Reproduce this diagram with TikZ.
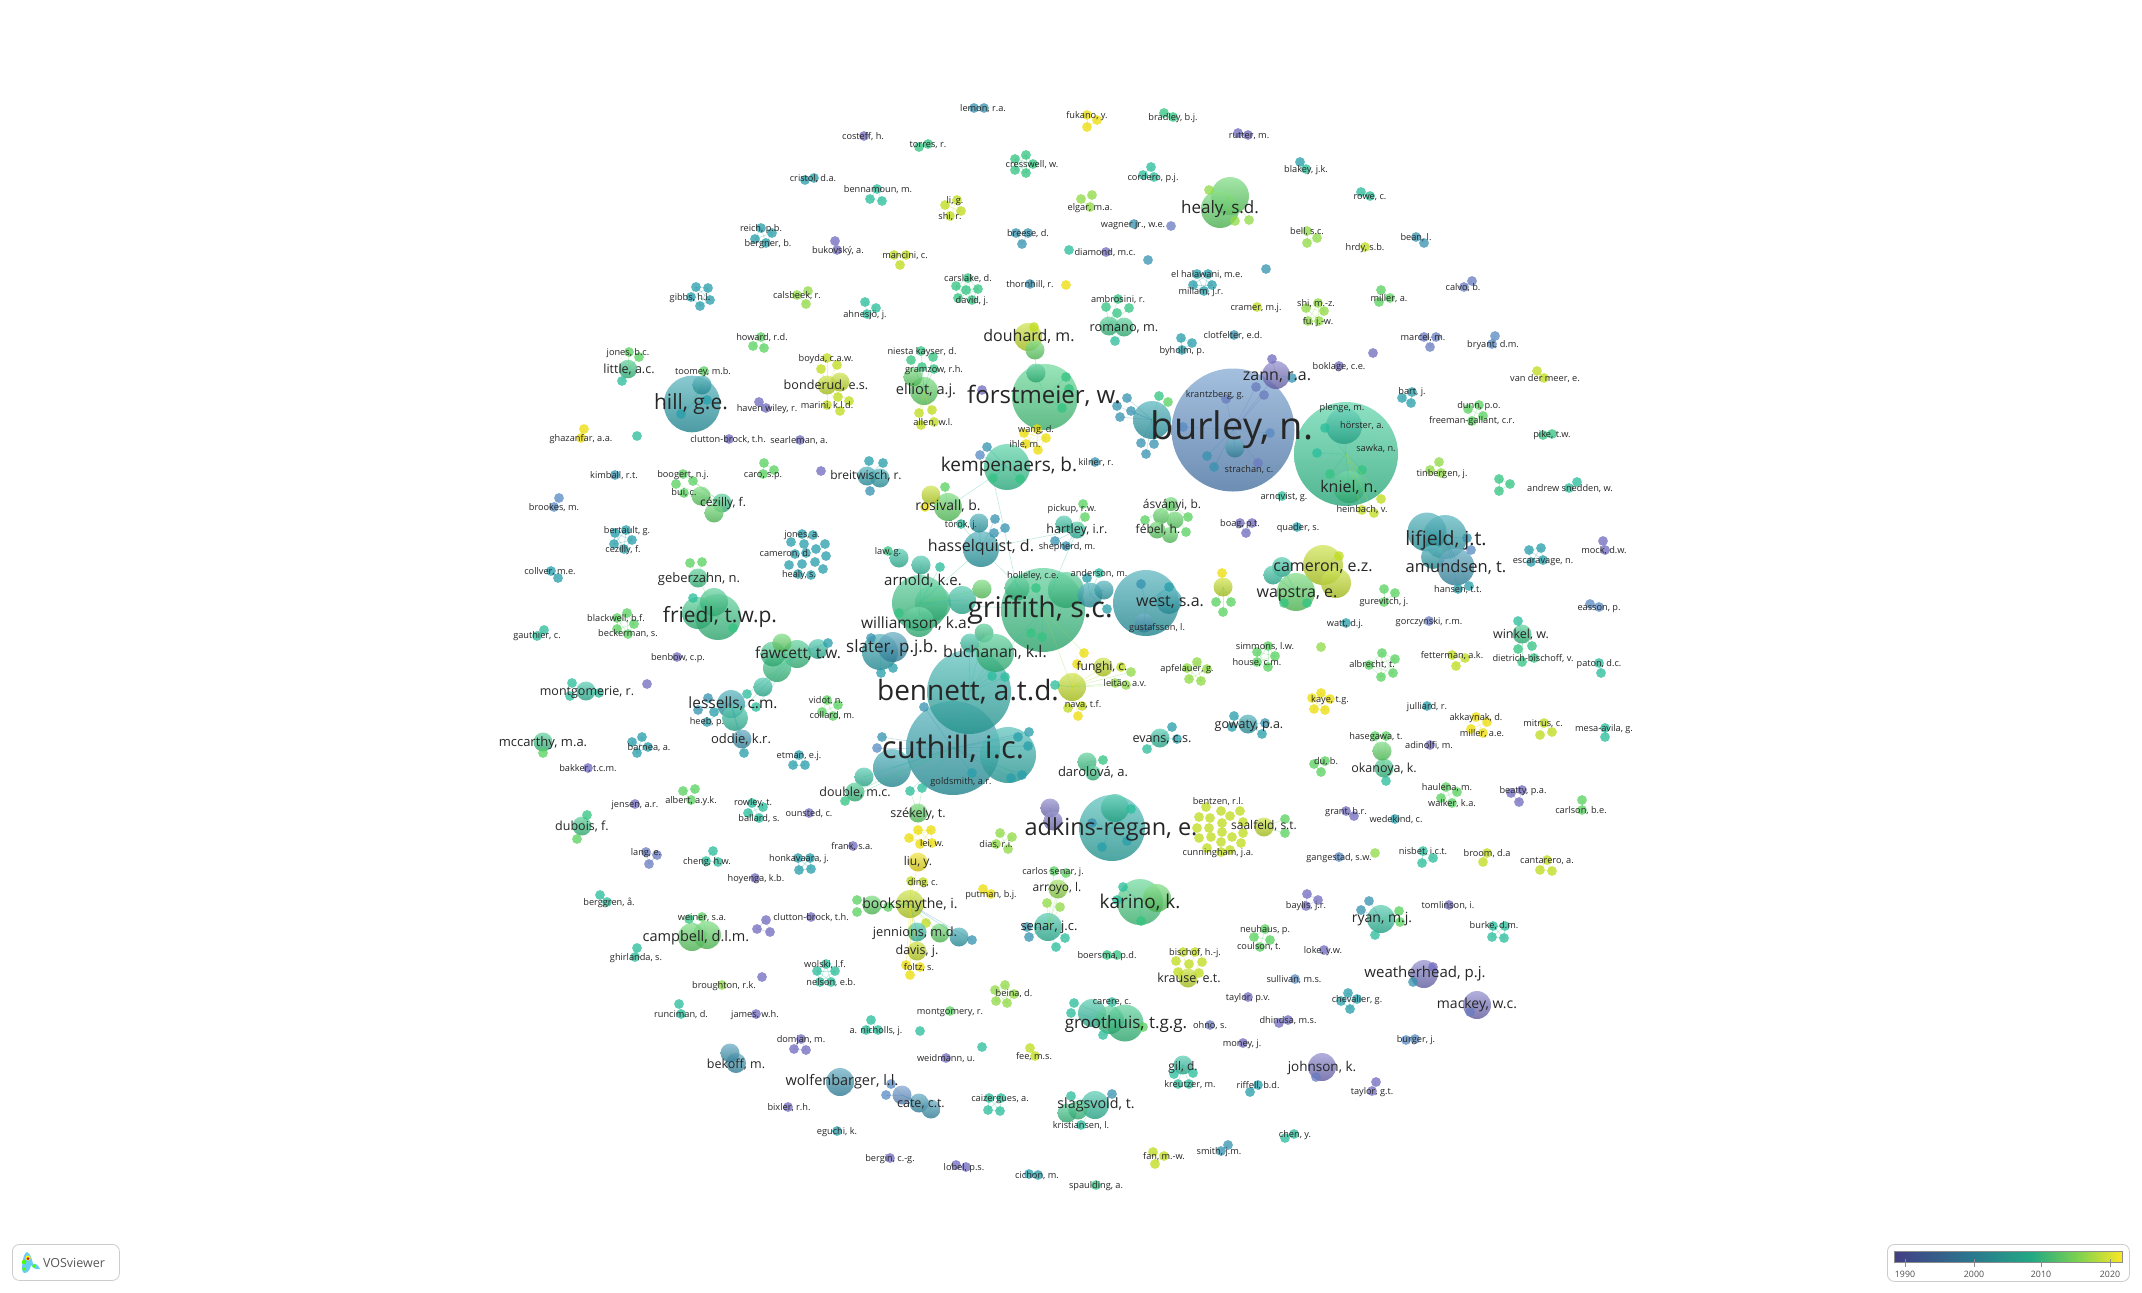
\documentclass[tikz,border=0pt]{standalone}
\usepackage{fontspec}
\setmainfont{Open Sans}
\definecolor{vp}{HTML}{726DBF}
\definecolor{vi}{HTML}{6A7CC0}
\definecolor{vb}{HTML}{598BC4}
\definecolor{vs}{HTML}{3792B0}
\definecolor{vt}{HTML}{279FAB}
\definecolor{vu}{HTML}{2AAFA9}
\definecolor{va}{HTML}{2ABE9C}
\definecolor{vn}{HTML}{30C992}
\definecolor{vg}{HTML}{33C481}
\definecolor{vo}{HTML}{45D080}
\definecolor{vm}{HTML}{59D360}
\definecolor{vl}{HTML}{90DB45}
\definecolor{vk}{HTML}{C1DC1D}
\definecolor{vy}{HTML}{ECDD09}
\definecolor{ba}{HTML}{433E85}
\definecolor{bb}{HTML}{2A788E}
\definecolor{bc}{HTML}{22A884}
\definecolor{bd}{HTML}{7AD151}
\definecolor{be}{HTML}{FDE725}
\definecolor{framec}{HTML}{CCCCCC}
\pgfdeclarehorizontalshading{virid}{100bp}{color(0bp)=(ba);color(25bp)=(ba);color(42bp)=(bb);color(55bp)=(bc);color(65bp)=(bd);color(75bp)=(be);color(100bp)=(be)}
\newcounter{labn}
\tikzset{
  bub/.style={circle,inner sep=0pt,outer sep=0pt,fill opacity=.8,draw=none},
  bigb/.style={top color=#1!68!white,bottom color=#1!82!black},
  smallb/.style={fill=#1,fill opacity=.76},
  lnk/.style={line width=.6pt,draw opacity=.3},
  lab/.style={inner sep=0pt,text=black!85,anchor=base},
}
% mixed cluster, first entry is the hub: x/y/r/colour
\newcommand\cl[2]{%
  \foreach \vx/\vy/\vr/\vc [count=\ei] in {#2}{%
    \ifdim\vr pt>6pt \def\vst{bigb}\else\def\vst{smallb}\fi
    \ifdim\vr pt<5pt \def\vr{4.9}\fi
    \node[bub,\vst=v\vc,minimum size=2*\vr] (#1-\ei) at (\vx,\vy) {};
    \ifnum\ei>1 \draw[lnk,draw=v\vc] (#1-1.center) -- (#1-\ei.center);\fi
  }}
% uniform small cluster, fully linked
\newcommand\sm[3]{%
  \foreach \vx/\vy [count=\ei] in {#3}{%
    \node[bub,smallb=v#2,minimum size=9.8] (#1-\ei) at (\vx,\vy) {};
    \xdef\en{\ei}}%
  \foreach \ea in {1,...,\en}{\foreach \eb in {1,...,\en}{%
    \ifnum\ea<\eb \draw[lnk,draw=v#2] (#1-\ea.center) -- (#1-\eb.center);\fi}}}
% uniform small cluster without visible links
\newcommand\smn[3]{%
  \foreach \vx/\vy [count=\ei] in {#3}{%
    \node[bub,smallb=v#2,minimum size=9.8] (#1-\ei) at (\vx,\vy) {};}}
\newcommand\lk[3]{\draw[lnk,draw=v#3] (#1.center) -- (#2.center);}
% labels are queued and drawn above every bubble
\newcommand\alllabels{}
\newcommand\lbdo[4]{\stepcounter{labn}\node[lab,font=\fontsize{#1}{#1}\selectfont] (lab\thelabn) at (#2,{#3+.33*#1}) {#4};}
\makeatletter
\newcommand\lb[4][9.2]{\g@addto@macro\alllabels{\lbdo{#1}{#2}{#3}{#4}}}
\makeatother
\begin{document}
\begin{tikzpicture}[x=1pt,y=-1pt]
\useasboundingbox (0,0) rectangle (2142,1293);
\fill[white] (0,0) rectangle (2142,1293);
% ---- central cores
\cl{burley}{1233/430/61.5/b,1226/399/4.5/i,1183/427/4.5/b,1270/433/4.5/b,1235/448/9.5/s,1207/456/4.5/s,1214/467/4.5/s,1258/463/4.5/i,1256/387/4.5/i,1264/395/4.5/i}
\cl{zann}{1276/375/14/p,1272/359/4.5/p,1292/378/4/s}
\lk{burley-1}{zann-1}{i}
\cl{kniel}{1346/454/52/n,1344/426/18/a,1349/487/16/g,1325/428/4.5/a,1317/453/4.5/a,1330/474/4.5/g,1362/470/4.5/g,1381/499/4.5/k,1362/510/4.5/k,1374/513/4.5/k}
\cl{forst}{1045/397/33/o,1036/373/9.5/g,1066/377/4.5/g,1069/389/4.5/g,1062/408/4/g}
\cl{douhard}{1028/337/14/k,1035/350/9.5/m,1034/327/4.5/k}
\lk{forst-2}{douhard-2}{m}
\smn{fpurple}{p}{982/390}
\sm{wang}{y}{1024/433,1037/429,1046/438,1026/444,1038/450}
\cl{kemp}{1007/467/23/n,987/447/4.5/s,980/455/4.5/b,993/478/4.5/g,1020/479/4.5/g}
\cl{rightb}{1152/420/19/t,1127/398/4.5/s,1131/411/4.5/s,1117/406/4.5/s,1120/417/4.5/s,1159/396/4.5/g,1168/402/4.5/m,1141/443/4.5/s,1154/444/4.5/s,1146/454/4.5/s}
\cl{cuthill}{953/748/47/t,1008/755/28/u,892/768/19/t,864/777/9.5/a,855/792/9.5/g,845/801/4.5/g,882/737/4.5/s,877/748/4.5/b,910/791/4.5/a,922/788/4.5/a,1018/737/4.5/t,1029/732/4.5/t,1028/746/4.5/t,1022/775/4.5/t,1011/778/4.5/t,972/773/4.5/t,924/707/4.5/s}
\cl{szek}{918/813/9.5/m}
\lk{cuthill-9}{szek-1}{m}\lk{cuthill-10}{szek-1}{m}
\cl{bennett}{969/692/42/u,984/633/9.5/g,970/643/9.5/a,995/653/19/g,992/676/4.5/a,1005/677/4.5/a}
\cl{griffith}{1043/610/42/g,1066/590/18/g,1017/588/12.5/g,1036/588/4.5/g,1031/633/4.5/g,1042/637/4.5/g}
\cl{arnold}{920/603/28/g,933/603/18/g,919/622/15/g,962/600/14/a,921/565/9.5/a,940/567/4.5/a,982/589/9.5/m,899/613/4.5/g}
\cl{slater}{880/652/18/t,893/647/15/s,871/638/4.5/s,881/673/4.5/t,893/668/4.5/t}
\cl{hassel}{981/549/18/t,979/523/9.5/t,961/524/4.5/a,995/519/4.5/s,994/533/4.5/s,1005/528/4.5/s}
\cl{law}{899/558/9.5/a,888/551/4.5/g}
\cl{rosiv}{948/507/14/m,931/495/9.5/k,945/487/4.5/m,925/507/4.5/y}
\cl{hartley}{1077/530/8.5/a,1064/524/8.5/a,1083/504/4.5/m,1085/517/4.5/m,1055/541/4.5/s,1066/546/4.5/s}
\cl{anders}{1090/595/12.5/t,1099/573/4.5/a,1087/578/4.5/t,1104/590/9.5/t,1107/609/4.5/t}
\cl{west}{1146/603/33/t,1169/601/13/t,1141/584/4.5/s,1169/587/4.5/t,1144/623/9.5/s}
\cl{funghi}{1072/687/14/k,1084/653/4.5/y,1077/664/4.5/y,1103/667/9.5/k,1121/667/4.5/k,1131/672/4.5/l,1115/683/4.5/l,1126/685/4.5/l,1055/685/4.5/a,1068/708/4.5/k,1082/706/4.5/k,1078/716/4.5/y}
\lk{griffith-1}{hassel-1}{a}\lk{griffith-1}{hartley-1}{a}\lk{griffith-1}{arnold-1}{a}\lk{hassel-1}{arnold-1}{a}\lk{hartley-1}{hassel-1}{a}
\lk{kemp-1}{rosiv-1}{a}\lk{kemp-4}{griffith-3}{a}\lk{griffith-1}{funghi-1}{l}\lk{griffith-1}{funghi-2}{l}\lk{griffith-1}{bennett-1}{a}\lk{bennett-1}{cuthill-1}{a}
\lb[38]{1232}{427}{burley, n.}
\lb[16]{1277}{375}{zann, r.a.}
\lb{1215}{394}{krantzberg, g.}
\lb{1249}{469}{strachan, c.}
\lb{1342}{407}{plenge, m.}
\lb{1362}{425}{hörster, a.}
\lb{1376}{448}{sawka, n.}
\lb[16]{1349}{487}{kniel, n.}
\lb{1362}{509}{heinbach, v.}
\lb[24]{1044}{396}{forstmeier, w.}
\lb[16]{1029}{336}{douhard, m.}
\lb{1036}{429}{wang, d.}
\lb{1025}{444}{ihle, m.}
\lb[19]{1009}{465}{kempenaers, b.}
\lb[31]{953}{748}{cuthill, i.c.}
\lb[28]{968}{691}{bennett, a.t.d.}
\lb{961}{781}{goldsmith, a.r.}
\lb[12.5]{855}{792}{double, m.c.}
\lb[12.5]{918}{813}{székely, t.}
\lb[28.5]{1040}{608}{griffith, s.c.}
\lb{1033}{575}{holleley, c.e.}
\lb[16]{995}{652}{buchanan, k.l.}
\lb[15]{923}{581}{arnold, k.e.}
\lb[15.5]{916}{623}{williamson, k.a.}
\lb[17]{892}{647}{slater, p.j.b.}
\lb[16]{981}{546}{hasselquist, d.}
\lb{961}{524}{török, j.}
\lb{888}{551}{law, g.}
\lb[14]{948}{506}{rosivall, b.}
\lb{1072}{508}{pickup, r.w.}
\lb[12.5]{1077}{529}{hartley, i.r.}
\lb{1067}{546}{shepherd, m.}
\lb{1099}{573}{anderson, m.}
\lb[16]{1170}{601}{west, s.a.}
\lb{1157}{627}{gustafsson, l.}
\lb[12]{1102}{667}{funghi, c.}
\lb{1125}{683}{leitão, a.v.}
\lb{1083}{704}{nava, t.f.}
% ---- upper left
\smn{lemon}{s}{974/108,984/108}\lb{983}{108}{lemon, r.a.}
\smn{costeff}{p}{864/136}\lb{863}{136}{costeff, h.}
\sm{torres}{g}{919/147,928/144}\lb{928}{144}{torres, r.}
\sm{cristol}{t}{805/180,814/178}\lb{813}{178}{cristol, d.a.}
\sm{bennam}{a}{877/189,870/199,882/201}\lb{878}{189}{bennamoun, m.}
\sm{lig}{k}{957/200,945/205,961/211,950/216}\lb{955}{200}{li, g.}\lb{950}{216}{shi, r.}
\sm{reich}{t}{761/228,772/233,755/239,766/243}\lb{761}{228}{reich, p.b.}\lb{768}{243}{bergner, b.}
\sm{bukov}{p}{835/241,837/250}\lb{838}{250}{bukovský, a.}
\sm{mancini}{k}{894/255,906/255,900/265}\lb{905}{255}{mancini, c.}
\sm{carsl}{g}{968/278,956/286,966/290,978/289,958/298,972/300}\lb{968}{278}{carslake, d.}\lb{972}{300}{david, j.}
\sm{gibbs}{t}{696/287,708/288,691/297,710/300,700/306}\lb{690}{297}{gibbs, h.l.}
\sm{calsb}{l}{808/291,797/295,806/304}\lb{797}{295}{calsbeek, r.}
\sm{ahnes}{a}{865/302,876/308,867/314}\lb{865}{314}{ahnesjö, j.}
\sm{howard}{m}{761/337,753/346,764/348}\lb{762}{337}{howard, r.d.}
\cl{little}{628/369/9.3/g,629/352/4.5/m,639/357/4.5/m,622/381/4.5/a}\lb{628}{352}{jones, b.c.}\lb[12.5]{629}{369}{little, a.c.}
\cl{hill}{692/404/28.3/t,702/385/9.5/t,707/400/4.5/t,681/414/4/t,704/371/4.5/m}\lb{703}{371}{toomey, m.b.}\lb[21]{691}{403}{hill, g.e.}
\cl{bonder}{827/385/9.5/k,840/382/9.5/k,827/358/4.5/k,821/369/4.5/k,837/365/4.5/k,838/397/4.5/k,849/401/4.5/k,827/405/4.5/k,840/411/4.5/k}\lb{826}{358}{boyda, c.a.w.}\lb[12.6]{826}{385}{bonderud, e.s.}\lb{827}{405}{marini, k.l.d.}
\cl{elliot}{924/391/14/m,913/377/9.5/m,921/351/4.5/g,911/360/4.5/g,933/357/4.5/g,922/367/4.5/g,934/369/4.5/g,919/413/4.5/k,932/410/4.5/k,921/425/4.5/k,934/422/4.5/k}\lb{922}{351}{niesta kayser, d.}\lb{934}{369}{gramzow, r.h.}\lb[14.6]{926}{390}{elliot, a.j.}\lb{933}{422}{allen, w.l.}
\sm{haven}{p}{759/402,766/408}\lb{767}{408}{haven wiley, r.}
\sm{ghaz}{y}{584/429,581/438}\lb{581}{438}{ghazanfar, a.a.}
\smn{solo1}{a}{637/436}
\smn{clut}{p}{729/439}\lb{728}{439}{clutton-brock, t.h.}
\smn{searl}{p}{800/440}\lb{799}{440}{searleman, a.}
% ---- upper middle / right
\sm{fukano}{y}{1087/115,1097/120,1087/127}\lb{1087}{115}{fukano, y.}
\sm{bradley}{g}{1164/113,1173/117}\lb{1173}{117}{bradley, b.j.}
\sm{rutter}{p}{1238/133,1248/135}\lb{1249}{135}{rutter, m.}
\sm{cressw}{g}{1026/155,1015/159,1033/164,1015/170,1026/173}\lb{1032}{164}{cresswell, w.}
\sm{cordero}{a}{1151/167,1143/175,1154/177}\lb{1153}{177}{cordero, p.j.}
\cl{blakey}{1300/162/4.5/t,1306/169/4.5/a}\lb{1306}{169}{blakey, j.k.}
\sm{rowe}{a}{1361/192,1370/196}\lb{1370}{196}{rowe, c.}
\cl{healy}{1230/196/19/m,1220/209/19/m,1209/190/4.5/l,1235/221/4.5/l,1249/220/4.5/l}\lb[17]{1220}{208}{healy, s.d.}
\sm{elgar}{l}{1081/199,1092/195,1090/207}\lb{1090}{207}{elgar, m.a.}
\smn{wagner}{s}{1134/224}\lb{1133}{224}{wagner jr., w.e.}
\smn{solo2}{i}{1171/226}
\sm{bells}{l}{1307/231,1317/238,1307/243}\lb{1307}{231}{bell, s.c.}
\sm{beanl}{s}{1416/237,1424/243}\lb{1416}{237}{bean, l.}
\smn{hrdy}{k}{1365/247}\lb{1365}{247}{hrdy, s.b.}
\sm{breese}{s}{1016/233,1028/233,1022/244}\lb{1028}{233}{breese, d.}
\smn{solo3}{a}{1069/250}
\smn{diam}{p}{1106/252}\lb{1105}{252}{diamond, m.c.}
\smn{solo4}{s}{1148/260}
\smn{solo5}{s}{1266/269}
\sm{elhal}{t}{1197/274,1208/274,1193/285,1212/285,1204/291}\lb{1207}{274}{el halawani, m.e.}\lb{1201}{291}{millam, j.r.}
\smn{thorn}{s}{1030/284}\lb{1030}{284}{thornhill, r.}
\smn{solo6}{y}{1066/285}
\cl{romano}{1109/326/9.5/g,1124/327/9.5/g,1118/299/4.5/g,1106/307/4.5/g,1129/308/4.5/g,1117/313/4.5/g,1115/341/4.5/a}\lb{1118}{299}{ambrosini, r.}\lb[12.7]{1124}{327}{romano, m.}
\smn{cramer}{k}{1257/307}\lb{1256}{307}{cramer, m.j.}
\sm{shimz}{l}{1318/303,1306/308,1324/311,1308/321,1319/321}\lb{1316}{303}{shi, m.-z.}\lb{1318}{321}{fu, j.-w.}
\sm{millera}{m}{1381/290,1390/298,1379/302}\lb{1389}{298}{miller, a.}
\sm{calvo}{i}{1472/281,1464/287}\lb{1463}{287}{calvo, b.}
\sm{marcel}{i}{1424/337,1436/337,1430/347}\lb{1423}{337}{marcel, m.}
\sm{bryant}{b}{1495/336,1492/344}\lb{1493}{344}{bryant, d.m.}
\smn{solo7}{p}{1373/353}
\smn{boklage}{p}{1339/366}\lb{1339}{366}{boklage, c.e.}
\smn{clotf}{s}{1234/335}\lb{1233}{335}{clotfelter, e.d.}
\sm{byholm}{t}{1181/338,1192/343,1182/350}\lb{1182}{350}{byholm, p.}
\lb{1096}{462}{kilner, r.}\smn{kilner}{s}{1095/462}
\smn{arnq}{a}{1282/496}\lb{1284}{496}{arnqvist, g.}
\sm{bart}{t}{1412/392,1402/398,1411/403}\lb{1412}{391}{bart, j.}
\sm{boag}{p}{1240/523,1252/523,1246/533}\lb{1240}{523}{boag, p.t.}
\smn{quader}{t}{1297/527}\lb{1298}{527}{quader, s.}
\cl{asv}{1171/504/7/m,1161/516/8/m,1175/520/8.5/m,1157/530/8.5/m,1170/535/8/m,1145/520/4.5/m,1188/517/4.5/m,1186/532/4.5/m}\lb[12]{1172}{505}{ásványi, b.}\lb[12]{1158}{530}{fébel, h.}
\cl{cameron}{1323/565/20/k,1336/583/15/k,1339/556/4.5/k}
\cl{wapstra}{1296/592/19/m,1282/567/10/a,1273/575/9.5/a,1284/603/4.5/g,1307/603/4.5/g}
\lb[16]{1323}{566}{cameron, e.z.}\lb[16]{1297}{592}{wapstra, e.}
\cl{zone}{1223/587/9.5/k,1222/573/4.5/y,1216/602/4.5/m,1231/602/4.5/m,1223/612/4.5/m}
\sm{gurev}{m}{1384/589,1395/593,1384/602}\lb{1384}{601}{gurevitch, j.}
\smn{watt}{t}{1346/623}\lb{1345}{623}{watt, d.j.}
\smn{gorcz}{i}{1429/621}\lb{1429}{621}{gorczynski, r.m.}
\sm{tinb}{l}{1439/462,1430/470,1441/473}\lb{1442}{473}{tinbergen, j.}
\sm{simm}{m}{1268/646,1275/656,1257/652,1257/662,1268/667}\lb{1265}{646}{simmons, l.w.}\lb{1257}{662}{house, c.m.}
\smn{solo8}{l}{1321/647}
\sm{albre}{m}{1382/653,1395/659,1369/665,1393/673,1381/677}\lb{1372}{664}{albrecht, t.}
\sm{apfel}{l}{1197/662,1187/668,1207/669,1189/679,1201/681}\lb{1187}{668}{apfelauer, g.}
\sm{fetter}{k}{1452/655,1465/658,1456/666}\lb{1452}{655}{fetterman, a.k.}
\cl{winkel}{1522/634/9.5/g,1518/621/4.5/a,1518/649/4.5/g,1532/646/4.5/g,1522/662/4.5/g,1534/658/4.5/g}\lb[12.5]{1521}{634}{winkel, w.}\lb{1533}{658}{dietrich-bischoff, v.}
\sm{paton}{a}{1599/663,1601/673}\lb{1599}{663}{paton, d.c.}
\sm{easson}{b}{1590/604,1599/607}\lb{1599}{607}{easson, p.}
\sm{mock}{p}{1603/541,1605/550}\lb{1604}{550}{mock, d.w.}
\sm{escar}{t}{1529/550,1541/548,1543/560,1531/562}\lb{1543}{560}{escaravage, n.}
\cl{lifjeld}{1445/537/22/t,1427/532/19.5/t,1433/557/12/t,1456/567/18.5/s,1467/538/4.5/s,1471/550/4.5/b,1469/586/4.5/t,1458/589/4.5/t}\lb[19.5]{1446}{539}{lifjeld, j.t.}\lb[16.5]{1456}{567}{amundsen, t.}\lb{1458}{589}{hansen, t.t.}
\sm{andrew}{a}{1577/482,1569/488}\lb{1570}{488}{andrew snedden, w.}
\sm{tri}{g}{1499/479,1510/484,1499/491}
\sm{pike}{g}{1543/435,1552/434}\lb{1552}{434}{pike, t.w.}
\sm{dunn}{m}{1468/409,1479/405,1483/416,1472/421}\lb{1479}{405}{dunn, p.o.}\lb{1472}{420}{freeman-gallant, c.r.}
\sm{vander}{k}{1537/371,1544/378}\lb{1545}{378}{van der meer, e.}
% ---- left
\smn{kimball}{s}{615/475}\lb{614}{475}{kimball, r.t.}
\sm{brookes}{b}{559/498,554/507}\lb{554}{507}{brookes, m.}
\cl{cezil}{722/503/9.5/g,701/496/9.5/m,714/513/9.5/m,683/474/4.5/m,676/484/4.5/m,693/481/4.5/m,684/493/4.5/m}\lb{683}{474}{boogert, n.j.}\lb{684}{492}{bui, c.}\lb[12]{723}{503}{cézilly, f.}
\sm{caro}{m}{764/463,774/470,763/474}\lb{763}{474}{caro, s.p.}
\smn{solo9}{p}{821/471}
\cl{breit}{867/476/9.5/t,880/478/9.5/t,869/461/4.5/t,883/463/4.5/t,870/491/4.5/s}\lb[12]{866}{476}{breitwisch, r.}
\sm{bertau}{t}{615/533,626/530,632/540,614/544,624/549}\lb{627}{530}{bertault, g.}\lb{623}{549}{cezilly, f.}
\smn{jonesa}{t}{802/534,813/535,791/542,804/544,816/549,825/544,826/556,795/554,806/553,815/562,802/564,789/565,823/569,811/575,798/574}\lb{802}{534}{jones, a.}\lb{785}{553}{cameron, d.}\lb{799}{574}{healy, s.}
\sm{collv}{t}{551/571,558/578}\lb{550}{571}{collver, m.e.}
\cl{geber}{698/578/9.5/g,690/563/4.5/m,702/562/4.5/m}\lb[13]{699}{578}{geberzahn, n.}
\cl{friedl}{718/617/23/g,698/613/16/g,714/602/14/g,693/598/4.5/a,733/628/4.5/g}\lb[21]{720}{616}{friedl, t.w.p.}
\lk{geber-1}{friedl-1}{m}
\sm{blackw}{m}{627/613,617/618,634/624,617/629,628/634}\lb{616}{618}{blackwell, b.f.}\lb{628}{633}{beckerman, s.}
\sm{gauth}{a}{544/630,537/636}\lb{537}{635}{gauthier, c.}
\smn{benbow}{p}{677/657}\lb{678}{657}{benbow, c.p.}
\cl{fawcett}{797/654/14/g,777/668/14/g,773/654/12.5/g,782/643/9.5/m,818/649/10/a,828/643/4.5/t,763/687/9.5/a,747/694/4.5/a,756/707/4.5/a}\lb[15.5]{798}{653}{fawcett, t.w.}
\cl{lessel}{731/704/14/t,735/718/13/a,708/698/4.5/s,698/710/4.5/s,714/712/4.5/t,707/722/4.5/t,742/739/9.5/s,744/753/4.5/t}\lb[15.5]{733}{703}{lessells, c.m.}\lb{707}{721}{heeb, p.}\lb[13]{741}{739}{oddie, k.r.}
\lk{fawcett-7}{lessel-2}{a}
\cl{mccarth}{543/742/9.5/g,543/753/4.5/m}\lb[13]{543}{742}{mccarthy, m.a.}
\cl{montgo}{586/691/9.5/a,572/683/4.5/a,570/696/4.5/a,599/693/4.5/a}\lb[12.5]{587}{691}{montgomerie, r.}
\smn{solo10}{p}{647/684}
\sm{barnea}{t}{642/737,632/742,648/747,637/753}\lb{649}{747}{barnea, a.}
\smn{bakker}{p}{588/768}\lb{588}{768}{bakker, t.c.m.}
\sm{vidot}{m}{827/700,838/705,822/712,833/716}\lb{826}{700}{vidot, n.}\lb{832}{715}{collard, m.}
\sm{etman}{t}{799/755,793/765,805/765}\lb{799}{755}{etman, e.j.}
% ---- lower centre
\cl{evans}{1160/738/9.5/a,1172/727/4.5/t,1147/749/4.5/a,1177/739/4.5/t}\lb[12.6]{1162}{738}{evans, c.s.}
\cl{gowaty}{1248/724/9.5/t,1234/716/4.5/t,1232/727/4.5/t,1265/723/4.5/s,1262/734/4.5/t}\lb[12.5]{1249}{724}{gowaty, p.a.}
\cl{darol}{1087/762/9.5/g,1103/760/4.5/g,1093/773/7.5/g}\lb[13]{1093}{772}{darolová, a.}
\cl{adkins}{1112/828/33/u,1115/808/14/a,1131/809/4.5/a,1092/823/4.5/s,1102/847/4.5/t,1127/841/4.5/t}
\cl{adkp}{1050/808/9.5/p,1053/821/9.5/p}
\lb[23.5]{1111}{828}{adkins-regan, e.}
\smn{bentzen}{k}{1206/807,1221/811,1240/811,1199/817,1210/818,1230/816,1243/822,1197/828,1209/828,1222/823,1222/832,1243/833,1199/838,1211/837,1232/837,1221/842,1241/843,1207/848,1230/850,1221/852}
\cl{saalf}{1264/827/9.5/k,1285/819/4.5/m,1285/833/4.5/m}
\lb{1218}{801}{bentzen, r.l.}\lb[12]{1264}{826}{saalfeld, s.t.}\lb{1218}{852}{cunningham, j.a.}
\sm{dias}{l}{1000/833,1012/837,996/844,1008/849}\lb{996}{844}{dias, r.i.}
\sm{lei}{y}{918/830,931/830,909/838,920/844,932/843}\lb{932}{843}{lei, w.}
\cl{book}{910/904/14/k,918/862/9.5/y,911/881/4.5/k,923/882/4.5/k,872/905/9.5/m,857/900/4.5/m,857/912/4.5/m,888/907/4.5/m,926/923/4.5/k,917/932/9.5/a,940/933/9.5/m,959/937/9.5/t,972/940/4.5/s,917/951/9.5/k,906/965/4.5/y,920/967/4.5/y,910/975/4.5/y}
\lb[12]{918}{862}{liu, y.}\lb{923}{882}{ding, c.}\lb[14]{910}{904}{booksmythe, i.}\lb[12.8]{915}{932}{jennions, m.d.}\lb[12.5]{917}{950}{davis, j.}\lb{919}{967}{foltz, s.}
\sm{putman}{y}{983/889,991/894}\lb{991}{894}{putman, b.j.}
\cl{senar}{1048/927/14/a,1054/871/4.5/m,1066/873/4.5/m,1058/889/9.5/l,1047/903/4.5/l,1060/907/4.5/l,1027/927/4.5/s,1029/937/4.5/s,1065/938/4.5/a,1056/947/4.5/a}\lb{1053}{871}{carlos senar, j.}\lb[12]{1057}{888}{arroyo, l.}\lb[13]{1049}{926}{senar, j.c.}
\cl{karino}{1140/902/23/o,1157/898/14/m,1123/887/4.5/a,1117/900/4.5/a,1141/921/4.5/g}\lb[19]{1140}{902}{karino, k.}
\sm{baylis}{p}{1307/894,1318/900,1306/906}\lb{1306}{905}{baylis, j.r.}
\sm{neuh}{m}{1265/929,1254/937,1270/940,1260/947}\lb{1265}{929}{neuhaus, p.}\lb{1259}{946}{coulson, t.}
\smn{loke}{p}{1324/950}\lb{1323}{950}{loke, y.w.}
\sm{boers}{g}{1107/955,1117/955}\lb{1107}{955}{boersma, p.d.}
\cl{krause}{1188/978/9.5/k,1183/952/4.5/k,1195/952/4.5/k,1176/961/4.5/k,1189/964/4.5/k,1202/962/4.5/k,1178/972/4.5/k,1199/973/4.5/k}\lb{1195}{952}{bischof, h.-j.}\lb[12.5]{1189}{978}{krause, e.t.}
\smn{sulliv}{b}{1295/979}\lb{1294}{979}{sullivan, m.s.}
\smn{taylorp}{p}{1248/997}\lb{1248}{997}{taylor, p.v.}
\sm{beina}{l}{995/990,1005/985,1014/994,996/1001,1007/1003}\lb{1014}{993}{beina, d.}
\smn{montr}{m}{950/1011}\lb{950}{1011}{montgomery, r.}
\sm{nich}{a}{871/1020,866/1030,878/1030}\lb{876}{1030}{a. nicholls, j.}
\smn{solo11}{a}{920/1031,982/1047}
\smn{weidm}{p}{946/1058}\lb{946}{1058}{weidmann, u.}
\sm{fee}{k}{1030/1048,1035/1056}\lb{1034}{1056}{fee, m.s.}
\cl{groot}{1125/1023/18.5/g,1092/1013/14/a,1110/1020/14/g,1074/1003/4.5/a,1071/1013/4.5/a,1112/1002/4.5/a,1103/1035/4.5/a,1143/1027/4.5/m}\lb{1112}{1001}{carere, c.}\lb[17]{1126}{1023}{groothuis, t.g.g.}
\smn{ohno}{i}{1210/1025}\lb{1210}{1025}{ohno, s.}
\sm{dhin}{p}{1279/1023,1288/1020}\lb{1288}{1020}{dhindsa, m.s.}
\smn{money}{p}{1243/1043}\lb{1242}{1043}{money, j.}
\cl{gil}{1183/1065/9.5/a,1193/1073/4.5/a,1174/1074/4.5/a,1178/1084/4.5/a,1189/1084/4.5/a}\lb[12]{1183}{1067}{gil, d.}\lb{1190}{1084}{kreutzer, m.}
\sm{riffell}{t}{1258/1085,1250/1092}\lb{1258}{1085}{riffell, b.d.}
\cl{johnson}{1322/1067/14/p,1316/1077/4.5/i}\lb[13.5]{1322}{1067}{johnson, k.}
\sm{cheval}{t}{1348/993,1341/1001,1357/999,1350/1009}\lb{1357}{999}{chevalier, g.}
\cl{slags}{1095/1105/14/a,1067/1113/9.5/g,1078/1110/9.5/g,1071/1096/4.5/a,1112/1094/4.5/s,1081/1125/4.5/a}\lb[14.3]{1096}{1104}{slagsvold, t.}\lb{1081}{1125}{kristiansen, l.}
\sm{caiz}{a}{989/1098,1001/1098,988/1110,1000/1111}\lb{1000}{1098}{caizergues, a.}
\cl{cate}{902/1095/9.5/b,919/1103/9.5/s,931/1109/9.5/s,891/1084/4.5/b,886/1095/4.5/b}\lb[12.5]{921}{1103}{cate, c.t.}
\cl{wolfen}{840/1082/14/s}\lb[14.5]{842}{1081}{wolfenbarger, l.l.}
% ---- lower left
\smn{jensen}{p}{635/804}\lb{635}{804}{jensen, a.r.}
\sm{albert}{m}{683/791,695/789,691/800}\lb{691}{800}{albert, a.y.k.}
\sm{rowley}{a}{752/803,763/807,748/813,759/818}\lb{753}{802}{rowley, t.}\lb{759}{818}{ballard, s.}
\smn{ounst}{p}{809/813}\lb{809}{813}{ounsted, c.}
\cl{dubois}{582/826/9.5/g,587/815/4.5/g,577/839/4.5/m}\lb[12.5]{582}{826}{dubois, f.}
\smn{frank}{p}{853/846}\lb{852}{846}{frank, s.a.}
\sm{lang}{i}{646/852,657/855,649/864}\lb{646}{852}{lang, e.}
\sm{cheng}{a}{713/851,706/861,718/862}\lb{707}{861}{cheng, h.w.}
\sm{honka}{t}{798/858,810/858,799/870,811/869}\lb{799}{858}{honkavaara, j.}
\smn{hoyenga}{p}{755/878}\lb{756}{878}{hoyenga, k.b.}
\sm{bergg}{a}{600/895,607/902}\lb{609}{902}{berggren, å.}
\cl{campb}{707/935/14/m,692/937/14/m,689/919/4.5/g,702/917/4.5/m}\lb{702}{917}{weiner, s.a.}\lb[14.5]{696}{937}{campbell, d.l.m.}
\smn{clut2}{p}{811/917}\lb{811}{917}{clutton-brock, t.h.}
\sm{trip}{p}{766/920,757/929,770/932}
\sm{ghirl}{a}{637/948,635/957}\lb{636}{957}{ghirlanda, s.}
\smn{brough}{l}{722/985}\lb{724}{985}{broughton, r.k.}
\smn{solo12}{p}{762/977}
\sm{wolski}{a}{826/964,817/971,835/971,820/982,831/982}\lb{825}{964}{wolski, l.f.}\lb{831}{982}{nelson, e.b.}
\sm{runc}{a}{679/1004,681/1014}\lb{681}{1014}{runciman, d.}
\smn{james}{p}{756/1014}\lb{755}{1014}{james, w.h.}
\sm{domjan}{p}{801/1039,794/1049,806/1050}\lb{801}{1039}{domjan, m.}
\cl{bekoff}{736/1063/10/s,730/1053/9.5/s}\lb[12.5]{736}{1064}{bekoff, m.}
\smn{bixler}{p}{788/1107}\lb{789}{1107}{bixler, r.h.}
\smn{eguchi}{t}{837/1131}\lb{837}{1131}{eguchi, k.}
\smn{bergin}{p}{890/1158}\lb{890}{1158}{bergin, c.-g.}
\sm{lobel}{p}{956/1165,966/1167}\lb{964}{1167}{lobel, p.s.}
\sm{cichon}{t}{1029/1174,1038/1175}\lb{1037}{1175}{cichon, m.}
\smn{spauld}{g}{1096/1185}\lb{1096}{1185}{spaulding, a.}
\sm{fan}{k}{1153/1152,1164/1156,1155/1164}\lb{1164}{1156}{fan, m.-w.}
\sm{smith}{s}{1228/1145,1221/1151}\lb{1219}{1151}{smith, j.m.}
\sm{chen}{a}{1294/1134,1285/1138}\lb{1295}{1134}{chen, y.}
% ---- lower right
\sm{kaye}{y}{1321/693,1312/698,1330/699,1314/709,1325/710}\lb{1330}{699}{kaye, t.g.}
\smn{julli}{t}{1427/706}\lb{1427}{706}{julliard, r.}
\sm{akkay}{y}{1476/717,1487/722,1471/729,1483/733}\lb{1476}{717}{akkaynak, d.}\lb{1482}{733}{miller, a.e.}
\sm{mitrus}{k}{1544/723,1552/732,1540/735}\lb{1543}{723}{mitrus, c.}
\sm{mesa}{a}{1605/728,1605/737}\lb{1604}{728}{mesa-avila, g.}
\cl{okan}{1384/768/9.5/g,1382/751/9.5/m,1375/736/4.5/m,1386/736/4.5/m,1386/781/4.5/a}\lb{1376}{736}{hasegawa, t.}\lb[12.5]{1384}{768}{okanoya, k.}
\smn{adin}{p}{1430/745}\lb{1429}{745}{adinolfi, m.}
\sm{dub}{m}{1314/764,1325/761,1321/772}\lb{1326}{761}{du, b.}
\sm{haul}{m}{1446/787,1457/792,1441/798,1452/803}\lb{1447}{787}{haulena, m.}\lb{1452}{803}{walker, k.a.}
\sm{beatty}{p}{1511/793,1522/790,1519/802}\lb{1523}{790}{beatty, p.a.}
\sm{carlson}{m}{1582/800,1582/810}\lb{1581}{810}{carlson, b.e.}
\sm{grant}{p}{1346/811,1354/816}\lb{1346}{811}{grant, b.r.}
\smn{wedek}{t}{1395/819}\lb{1396}{819}{wedekind, c.}
\smn{gang}{b}{1339/857}\lb{1339}{857}{gangestad, s.w.}
\smn{solo13}{l}{1375/853}
\sm{nisbet}{a}{1423/851,1433/858,1422/863}\lb{1423}{851}{nisbet, i.c.t.}
\sm{broom}{k}{1487/853,1483/862}\lb{1487}{853}{broom, d.a}
\sm{cantar}{k}{1547/860,1540/870,1552/871}\lb{1547}{860}{cantarero, a.}
\cl{ryan}{1381/919/14/a,1369/901/4.5/s,1361/910/4.5/s,1399/911/4.5/m,1400/922/4.5/m,1375/935/4.5/a}\lb[14]{1382}{918}{ryan, m.j.}
\smn{tomlin}{p}{1449/905}\lb{1448}{905}{tomlinson, i.}
\sm{burke}{a}{1493/926,1505/926,1492/937,1504/938}\lb{1494}{925}{burke, d.m.}
\cl{weath}{1424/974/14/p,1433/967/4.5/p,1413/982/4.5/s}\lb[15]{1425}{973}{weatherhead, p.j.}
\cl{mackey}{1477/1005/14/p,1470/1012/4.5/i}\lb[14]{1477}{1004}{mackey, w.c.}
\sm{burger}{b}{1406/1040,1415/1039}\lb{1416}{1039}{burger, j.}
\sm{taylorg}{p}{1376/1082,1372/1091}\lb{1372}{1091}{taylor, g.t.}
% ---- all labels above the bubbles
\alllabels
% ---- VOSviewer badge
\node[draw=framec,line width=.8pt,rounded corners=7pt,minimum width=107,minimum height=36,inner sep=0pt,anchor=north west] (badge) at (12,1244) {};
\fill[cyan!60!white] (27,1252) .. controls (31,1254) and (32,1260) .. (33,1264) .. controls (36,1263) and (39,1266) .. (40,1269) .. controls (36,1270) and (33,1268) .. (31,1265) .. controls (30,1270) and (28,1273) .. (24,1273) .. controls (21,1272) and (22,1264) .. (23,1261) .. controls (23,1258) and (24,1254) .. (27,1252) -- cycle;
\fill[green!70!yellow] (24,1262) circle (2.2) (24,1269) circle (1.8) (34,1266) circle (1.8);
\fill[yellow] (28,1258) circle (2.6);
\fill[red!85!black] (28,1258.5) circle (1.5);
\node[font=\fontsize{12.5}{12.5}\selectfont,text=black!65,inner sep=0pt] (vos) at (74,1263) {VOSviewer};
% ---- colour bar
\node[draw=framec,line width=.8pt,rounded corners=7pt,minimum width=242,minimum height=37,inner sep=0pt,anchor=north west] (legend) at (1887,1244) {};
\node[draw=black!45,line width=.9pt,shading=virid,minimum width=228,minimum height=11,inner sep=0pt,anchor=north west] (bar) at (1894,1251) {};
\foreach \vx/\vt in {1905/1990,1974/2000,2041/2010,2110/2020}{
  \coordinate (ta\vt) at (\vx,1259);
  \coordinate (tb\vt) at (\vx,1267);
  \draw[black!45,line width=.7pt] (ta\vt) -- (tb\vt);
  \node[font=\fontsize{8.8}{8.8}\selectfont,text=black!70,inner sep=0pt] (yr\vt) at (\vx,1274) {\vt};
}
\end{tikzpicture}
\end{document}
